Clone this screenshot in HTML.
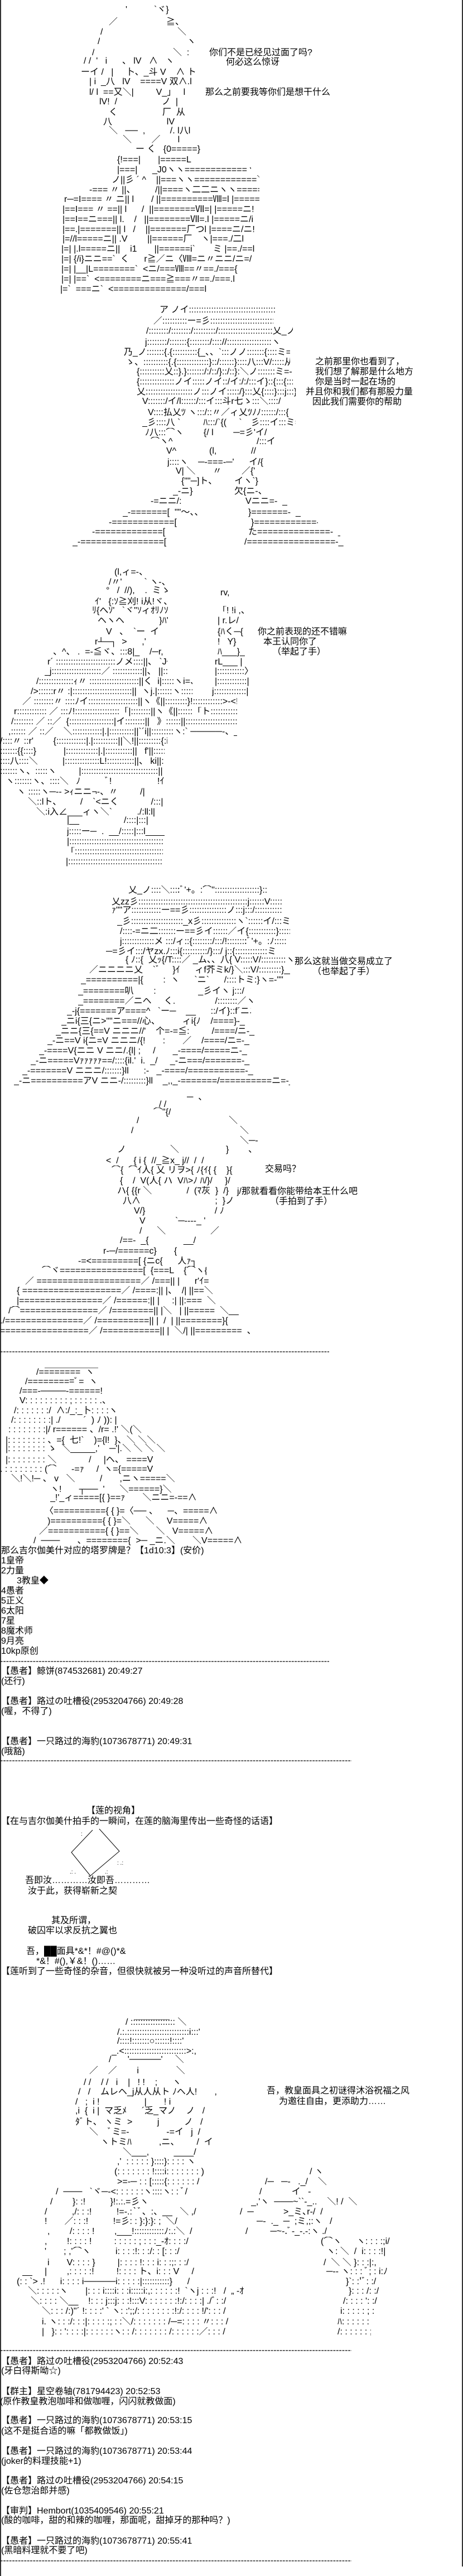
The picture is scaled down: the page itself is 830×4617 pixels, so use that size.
<!DOCTYPE html>
<html><head><meta charset="utf-8"><style>
html,body{margin:0;padding:0;background:#fff}
#pg{width:830px;height:4617px;position:relative;overflow:hidden;font-family:"Liberation Sans","Noto Sans CJK SC",sans-serif;font-size:16px;line-height:18px;color:#000;background:#fff}
.l{position:absolute;white-space:pre;overflow:hidden;height:18px}
.t{position:absolute;white-space:pre}
.dash{position:absolute;left:0;height:18px;white-space:pre;overflow:hidden}
#bl{position:absolute;left:0;top:0;width:2px;height:4617px;background:#333}
#br{position:absolute;right:0;top:0;width:2px;height:4600px;background:#333}
</style></head><body><div id="pg">
<div id="bl"></div><div id="br"></div>

<!-- ART 1 -->
<div class="l" style="top:9px;left:225px">'￣￣￣`ヾ}</div>
<div class="l" style="top:31px;left:195px">／</div><div class="l" style="top:31px;left:298px">≧、</div>
<div class="l" style="top:49px;left:180px">/</div><div class="l" style="top:49px;left:318px">＼</div>
<div class="l" style="top:66px;left:175px">/</div><div class="l" style="top:66px;left:335px">ヽ</div>
<div class="l" style="top:86px;left:165px">/</div><div class="l" style="top:86px;left:310px">＼  :</div>
<div class="l" style="top:101px;left:150px">/ /  '   i      、 lV   ∧   ヽ</div>
<div class="l" style="top:121px;left:145px">ーイ /   |     卜、_斗 V    ∧ ト</div>
<div class="l" style="top:138px;left:160px">| i  _八   lV    ====V 双∧.l</div>
<div class="l" style="top:157px;left:160px">l/ l  ==又＼|         V_」   l</div>
<div class="l" style="top:174px;left:178px">lV!  /                  ノ  |</div>
<div class="l" style="top:193px;left:195px">く                  厂  从</div>
<div class="l" style="top:210px;left:185px">八                      lV</div>
<div class="l" style="top:226px;left:195px">＼   ──  ,          /. l八l</div>
<div class="l" style="top:242px;left:220px">＼        ／       l</div>
<div class="l" style="top:259px;left:243px">ー く   {0=====}</div>
<div class="l" style="top:278px;left:210px">{!===|       |=====L</div>
<div class="l" style="top:296px;left:210px;width:240px">|===|      _J0ヽヽ============ヽ</div>
<div class="l" style="top:314px;left:200px;width:265px">ノ||彡 ´ ^    ||===ヽヽ============＼</div>
<div class="l" style="top:332px;left:160px;width:305px">-=== 〃 ||、        /||====ヽ二二ニヽヽ======|</div>
<div class="l" style="top:349px;left:115px;width:350px">r─=I==== 〃 ニ|| l       / ||==========Ⅷ=l |======l</div>
<div class="l" style="top:367px;left:112px;width:353px">|==I=== 〃 ==|| l      /  ||========Ⅶ=| |=====ニ!</div>
<div class="l" style="top:385px;left:112px;width:353px">|==I==ニ===|| l.    /   ||========Ⅶ=.l |=====ニ/i</div>
<div class="l" style="top:403px;left:112px;width:353px">|==.|=======|| l   /    ||=======厂つl |====ニ/ニ!</div>
<div class="l" style="top:420px;left:112px;width:353px">|=//l=====ニ|| .V        ||======厂￣ヽ|===./二l</div>
<div class="l" style="top:438px;left:110px;width:355px">|=| |.l=====ニ||    i1       ||======i`￣￣ミ |==./==l</div>
<div class="l" style="top:456px;left:110px;width:355px">|=| {/i}ニニ==`  く      r≧／ニ〈Ⅷ=ニ〃ニニ/ニ=/</div>
<div class="l" style="top:474px;left:110px;width:345px">|=| |__|L========`  &lt;ニ/===Ⅷ==〃==./==={</div>
<div class="l" style="top:492px;left:110px;width:335px">|=| |==`  &lt;========ニ===≧===〃==./===.l</div>
<div class="l" style="top:510px;left:108px;width:337px">|=`  ===ニ`  &lt;==============/===l</div>
<div class="t" style="top:86px;left:375px">你们不是已经见过面了吗?</div>
<div class="t" style="top:103px;left:405px">何必这么惊讶</div>
<div class="t" style="top:157px;left:368px">那么之前要我等你们是想干什么</div>

<!-- ART 2 -->
<div class="l" style="top:547px;left:270px;width:225px">￣ア ノイ::::::::::::::::::::::::::::::::::::::::::::く￣</div>
<div class="l" style="top:567px;left:275px;width:215px">／::::::::::ー=彡::::::::::::::::::::::::::::::::::ヽ</div>
<div class="l" style="top:585px;left:262px;width:263px">/::::::::/::::::::/:::::::::/::::::::::::::::::::::乂_ノ</div>
<div class="l" style="top:605px;left:260px;width:250px">j::::::::/:::::::{::::::::/:::://::::::::::::::::::ヽ</div>
<div class="l" style="top:623px;left:222px;width:298px">乃_ノ:::::::{.{::::::::::{_、、`:::ノノ:::::::{::::ミ=-::::</div>
<div class="l" style="top:641px;left:225px;width:295px">ゝ、::::::::::{.{:::::::::::::}::/::::::}::::八:::V/:::::从</div>
<div class="l" style="top:658px;left:245px;width:290px">{::::::::::乂::}.}:::::::/:/::/}::/::}:＼ノ:::::::ミ=-</div>
<div class="l" style="top:676px;left:245px;width:280px">{::::::::::::::ノイ:::::ノイ::/イ:/:/:::イ}::{:::{::::::}</div>
<div class="l" style="top:694px;left:245px;width:285px">乂:::::::::::::::::::ノ:::ノイ:::::/}:::乂{::::}:::j:::}</div>
<div class="l" style="top:711px;left:255px;width:267px">V:::::::/イ/l::::::/:::イ:::斗r七ゝ:::＼::::/</div>
<div class="l" style="top:731px;left:265px;width:255px">V::::払乂ﾂ ヽ:::/::〃／ィ乂ﾂﾉﾉ::::::/:::{</div>
<div class="l" style="top:749px;left:255px;width:275px">_彡::::八 `￣￣  ﾊ:::/`{(     `￣彡::::イ:::ミ=-</div>
<div class="l" style="top:767px;left:260px;width:235px">ﾉ八:::⌒ヽ        {/ l        ─=彡'イ/</div>
<div class="l" style="top:783px;left:270px">⌒ヽ^</div><div class="l" style="top:783px;left:460px">/:::イ</div>
<div class="l" style="top:800px;left:298px">V^</div><div class="l" style="top:800px;left:375px">(l,</div><div class="l" style="top:800px;left:450px">//</div>
<div class="l" style="top:820px;left:300px">j::::ヽ    ─-===-─'      イ/{</div>
<div class="l" style="top:836px;left:315px">V| ＼       〃        ／{'</div>
<div class="l" style="top:854px;left:325px">{""─]ト、       イヽ`}</div>
<div class="l" style="top:872px;left:310px">_-ニ}</div><div class="l" style="top:872px;left:420px">欠{ニ-、</div>
<div class="l" style="top:890px;left:270px">-=ニニ/:</div><div class="l" style="top:890px;left:440px">Vニニ=-  _</div>
<div class="l" style="top:910px;left:220px;width:165px">_-=======[  ""～、、</div><div class="l" style="top:910px;left:445px;width:95px">}=======-  _</div>
<div class="l" style="top:928px;left:195px;width:125px">-============[</div><div class="l" style="top:928px;left:450px;width:120px">}============-  _</div>
<div class="l" style="top:945px;left:165px;width:155px">-=============[</div><div class="l" style="top:945px;left:445px;width:165px">た==============-  _</div>
<div class="l" style="top:963px;left:130px;width:192px">_-================[</div><div class="l" style="top:963px;left:438px;width:210px">/=================-_</div>
<div class="t" style="top:640px;left:565px">之前那里你也看到了，</div>
<div class="t" style="top:658px;left:565px">我们想了解那是什么地方</div>
<div class="t" style="top:676px;left:565px">你是当时一起在场的</div>
<div class="t" style="top:694px;left:548px">并且你和我们都有那股力量</div>
<div class="t" style="top:712px;left:560px">因此我们需要你的帮助</div>

<!-- ART 3 -->
<div class="l" style="top:1017px;left:205px">(l,ィ=-、</div>
<div class="l" style="top:1035px;left:195px">/〃'         ` ヽ-、</div>
<div class="l" style="top:1050px;left:190px">°   /  //),    .  ミゝ</div>
<div class="l" style="top:1054px;left:395px">rv,</div>
<div class="l" style="top:1070px;left:170px">ｲ'   {:ｿ≧刈! i从!ヾ、</div>
<div class="l" style="top:1086px;left:165px">ﾘ{へｿ'   `ヾ"ｿィｵﾘﾉｿ</div><div class="l" style="top:1086px;left:390px">「! !i ,、</div>
<div class="l" style="top:1104px;left:175px">ヘヽヘ              }ﾊ'</div><div class="l" style="top:1104px;left:390px">| r.レ/</div>
<div class="l" style="top:1124px;left:190px">V   、  `ー  イ</div><div class="l" style="top:1124px;left:390px">{ﾊく─{</div>
<div class="l" style="top:1142px;left:170px">r┴─┐  &gt;      ,'</div><div class="l" style="top:1142px;left:390px">!   Y}</div>
<div class="l" style="top:1160px;left:95px">、^、 .  =-≦ヾ、:::8|_    /─r,</div><div class="l" style="top:1160px;left:390px">ﾊ___}_</div>
<div class="l" style="top:1178px;left:85px;width:215px">r´ ::::::::::::::::::::::::ノメ::::||、 `J^、_ ___</div><div class="l" style="top:1178px;left:385px">rL___ |</div>
<div class="l" style="top:1195px;left:80px;width:225px">_j::::::::::::::::::::／ ::::::::::::||、 ||::ヾ、:::::ヽ</div><div class="l" style="top:1195px;left:385px">|:::::::::::〉</div>
<div class="l" style="top:1213px;left:65px;width:280px">/::::::::::::::ｨ〃 ::::::::::::::::::::||く  i|:::::ヽi=、`、_</div><div class="l" style="top:1213px;left:385px">|::::::::::::|</div>
<div class="l" style="top:1231px;left:55px;width:290px">/&gt;::::::r〃 :|::::::::::::::::::::::::||  ヽj.|::::::ヽ::::::::::::＼</div><div class="l" style="top:1231px;left:380px">j:::::::::::::|</div>
<div class="l" style="top:1249px;left:40px;width:385px">／ ::::::::〃 ::::ﾉイ::::::::::::::::::::||ヽ《||:::::::::}!::::::::::::&gt;-&lt;!::::::::::::|</div>
<div class="l" style="top:1267px;left:25px;width:400px">r:::::::::::: ／ :::ﾉ!::::::::::::::::::「|::::::::||ヽ《||::::::「ト:::::::::::::::::::::::::〉、::::::::|</div>
<div class="l" style="top:1285px;left:20px;width:405px">/:::::::: ／ ::／  {::::::::::::::::::|イ::::::::||   》::::::||::::::::::::::::::::::::ヽ::::::::::j</div>
<div class="l" style="top:1303px;left:15px;width:410px">,:::::: ／ ::／    ＼::::::::::::|.|::::::::::||`´i||:::::::::ヽ:` ─────-、__ノ</div>
<div class="l" style="top:1320px;left:0px;width:300px">/::::〃 ::r'        {::::::::::::|.|::::::::::||＼!||:::::::::{:i</div>
<div class="l" style="top:1338px;left:0px;width:295px">:::::::{{::::}           |:::::::::::::|.|:::::::::::||   f'||::::::::::::||</div>
<div class="l" style="top:1356px;left:0px;width:295px">::::八::::＼          |::::::::::::::L!:::::::::::||、 ki||:::::::::::|</div>
<div class="l" style="top:1374px;left:0px;width:295px">:::::::ヽ、:::::ヽ         |:::::::::::::::::::::::::::::::||   i{||:::::::::::|</div>
<div class="l" style="top:1392px;left:10px;width:290px">ヽ:::::::ヽ、::::＼   ﾉ          ﾞ!￣￣￣￣    !ｲ    |</div>
<div class="l" style="top:1411px;left:30px;width:262px">ヽ :::::ヽ─-- &gt;ｨニニ¬-、〃         /|       |</div>
<div class="l" style="top:1429px;left:50px;width:242px">＼::lト、  ￣  /    `&lt;ニく             /:::|       |</div>
<div class="l" style="top:1447px;left:65px;width:227px">＼:i入∠___ィヽ＼`          ./:ll:l|       |</div>
<div class="l" style="top:1462px;left:120px;width:172px">|__                  /::::|:::|       |</div>
<div class="l" style="top:1482px;left:120px;width:175px">j:::::ー─  .  __/:::::|:::l____j</div>
<div class="l" style="top:1500px;left:120px;width:172px">|:::::::::::::::::::::::::::::::::::::::j／ :::::::::::::|</div>
<div class="l" style="top:1518px;left:118px;width:174px">「::::::::::::::::::::::::::::::::::::::∠::::::::::::::::::|</div>
<div class="l" style="top:1536px;left:118px;width:174px">|:::::::::::::::::::::::::::::::::::::::::/::::::::::::::::::::::|</div>
<div class="t" style="top:1124px;left:462px">你之前表现的还不错嘛</div>
<div class="t" style="top:1142px;left:472px">本王认同你了</div>
<div class="t" style="top:1160px;left:488px">（举起了手）</div>

<!-- ART 4 -->
<div class="l" style="top:1587px;left:230px;width:250px">乂_ノ::::＼::::ﾞ'+。:⌒"::::::::::::::::::}::::乂__ノヘ</div>
<div class="l" style="top:1608px;left:200px;width:305px">乂zz彡::::::::::::::::::::::::::::::::::::::::::::j::::::V::::::::::::::::    }</div>
<div class="l" style="top:1623px;left:200px;width:305px">ｧ""ア::::::::::::ー==彡:::::::::::::::ノ:::j:::/:::::::::::::::::_ノ}</div>
<div class="l" style="top:1643px;left:210px;width:310px">_彡:::::::::::::::::::::_x彡::::::::::::::ヽ`::::::イ/:::ミzzzz彡"</div>
<div class="l" style="top:1661px;left:215px;width:305px">/::::-=ニ二:::::::ー==彡イ::::::／イ{:::::::::::}:::::V:::},ﾉ}</div>
<div class="l" style="top:1679px;left:215px;width:300px">j:::::::::::::メ :::/ィ::{::::::::/:::/!::::::::ﾞ'+。:ﾉ::::::::_彡"</div>
<div class="l" style="top:1697px;left:190px;width:305px">─=彡イ:::/ヤzx.ﾉ:::i{::::::::::/}:::/ j::{:::::::::::::ミ=-::::::::}</div>
<div class="l" style="top:1712px;left:225px;width:300px">{ ﾉ::{  乂ｯ{/T::::／ _ム、、八{ V:::::V/::::::::::ヽミ_</div>
<div class="l" style="top:1730px;left:160px;width:360px">／ニニニニ乂    `ﾞ     }ｲ      ィf芥ミk/}＼:::V/:::::::::}__ノ</div>
<div class="l" style="top:1748px;left:145px;width:370px">_==========|{        :  ヽ      `ニ`      /::::トミ:}ヽ=-""</div>
<div class="l" style="top:1768px;left:140px;width:350px">_========叭        :                 _彡イヽ j:::/</div>
<div class="l" style="top:1786px;left:140px;width:320px">_========／ニヘ     く.                /::::::::／ヽ</div>
<div class="l" style="top:1804px;left:120px;width:330px">_-j{=======ア====^   `ー─    __      ::/イ}::f´ニニ_</div>
<div class="l" style="top:1822px;left:110px;width:355px">_ニi{三{ニ&gt;""ニ===//心、         ィi{ﾉ    /====}-_</div>
<div class="l" style="top:1840px;left:100px;width:365px">_ニニ{三{==V ニニニ//'    个=-=≦:         /====/ニ-_</div>
<div class="l" style="top:1857px;left:85px;width:385px">_-ニ==V i{ニ=V ニニニ/{!       :       ／    /====/ニ=-_</div>
<div class="l" style="top:1875px;left:70px;width:410px">_-====V{ニニ V ニニ/.{l| ;     /       _-====/=====ニ-_</div>
<div class="l" style="top:1893px;left:55px;width:440px">_-ニ=====Vｧｧｧｧｧ==/::::{il.'  i.  _/     _-ニ===/=======-_</div>
<div class="l" style="top:1911px;left:40px;width:460px">_-=======V ニニニ/:::::::}ll      :-   _-====/===========-_</div>
<div class="l" style="top:1929px;left:25px;width:495px">_-ニ==========アV ニニ-/:::::::::}ll    _,,_-=======/==========ニ=-_</div>
<div class="t" style="top:1715px;left:528px">那么这就当做交易成立了</div>
<div class="t" style="top:1733px;left:560px">（也举起了手）</div>

<!-- ART 5 -->
<div class="l" style="top:1958px;left:335px">─  、</div>
<div class="l" style="top:1971px;left:285px">/ /</div>
<div class="l" style="top:1985px;left:275px">⌒"{/</div>
<div class="l" style="top:2000px;left:245px">/</div><div class="l" style="top:2000px;left:410px">＼</div>
<div class="l" style="top:2018px;left:235px">/</div><div class="l" style="top:2018px;left:430px">＼</div>
<div class="l" style="top:2036px;left:430px">＼─-</div>
<div class="l" style="top:2052px;left:210px">ノ</div><div class="l" style="top:2052px;left:305px">＼</div><div class="l" style="top:2052px;left:405px">}</div><div class="l" style="top:2052px;left:445px">、</div>
<div class="l" style="top:2072px;left:190px">&lt;  /      { i {  //_≧x_ j//  /  /</div>
<div class="l" style="top:2089px;left:200px;width:270px">⌒{  ⌒ｲ人{ 乂 リヲ&gt;{ ﾉ{ｲ{ {    }{</div>
<div class="t" style="top:2087px;left:475px">交易吗？</div>
<div class="l" style="top:2108px;left:215px;width:310px">{    /  V(人{ ハ  Vﾊ&gt;ﾉ ﾊ/}/     }/</div>
<div class="l" style="top:2126px;left:210px;width:240px">ハ{ {{r ＼              /  (ﾏ灰  }  /}</div>
<div class="l" style="top:2144px;left:220px;width:205px">八∧                              ;  }ノ</div>
<div class="t" style="top:2127px;left:425px;background:#fff">j/那就看看你能带给本王什么吧</div>
<div class="l" style="top:2162px;left:240px">V/}                            / ﾉ</div>
<div class="t" style="top:2145px;left:484px;background:#fff">（手拍到了手）</div>
<div class="l" style="top:2180px;left:250px">V            `─----_ '</div>
<div class="l" style="top:2198px;left:250px">/      ＼                  ／</div>
<div class="l" style="top:2215px;left:215px">/==-  _{              __/</div>
<div class="l" style="top:2234px;left:185px">r-─/======c}       {</div>
<div class="l" style="top:2252px;left:140px;width:230px">-=&lt;=========[ {ニc{      人ｧ┐</div>
<div class="l" style="top:2269px;left:75px;width:295px">⌒ヾ================[  {===L    {⌒ヽ{c|</div>
<div class="l" style="top:2288px;left:45px;width:330px">／ ====================／ /===|| |      r'ｲ=={</div>
<div class="l" style="top:2305px;left:30px;width:370px">{ ===================／ /====:|| |、  /| ||==＼</div>
<div class="l" style="top:2323px;left:30px;width:370px">|================／ /======:|| |     :| ||:===  ＼</div>
<div class="l" style="top:2341px;left:15px;width:420px">/⌒===============／ /========|| |＼   | ||=====  ＼__</div>
<div class="l" style="top:2359px;left:0px;width:450px">./===============／ /==========|| |  /  | ||========}{</div>
<div class="l" style="top:2377px;left:0px;width:460px">=================／ /===========|| |  ＼/| ||=========  、</div>

<div class="dash" style="top:2414px;width:590px">----------------------------------------------------------------------------------------------------------------------------</div>

<!-- ART 6 -->
<div class="l" style="top:2437px;left:80px">＿＿＿＿＿＿</div>
<div class="l" style="top:2451px;left:65px">/========  ヽ</div>
<div class="l" style="top:2468px;left:45px">/=========ﾟ=  ヽ</div>
<div class="l" style="top:2485px;left:35px">/===-────-======!</div>
<div class="l" style="top:2502px;left:35px">V: : : : : : : : : ; : : : : : .、</div>
<div class="l" style="top:2520px;left:25px">/: : : : : : :/  ∧:/_:_卜: : : :ヽ</div>
<div class="l" style="top:2537px;left:20px">/: : : : : : : :| ./  ￣￣´  ) ﾉ )): |</div>
<div class="l" style="top:2554px;left:15px">: : : : : : : :|/ r====== 、/r= .!' ＼(＼</div>
<div class="l" style="top:2573px;left:10px">|: : : : : : : : 、={  七!`    )={l!  }、＼ ＼＼</div>
<div class="l" style="top:2588px;left:10px">|: : : : : : : : ゝ  ＼_____,'    ─'|.＼ ＼ ＼ ＼</div>
<div class="l" style="top:2608px;left:10px">|: : : : : : : : ＼             /     |ヘ、 ====V</div>
<div class="l" style="top:2625px;left:0px">. : : : : : : : : (⌒      -=ｧ     /  ヽ={=====V</div>
<div class="l" style="top:2642px;left:20px">＼!＼!─ 、 v   ＼          /       ,ニヽ=====＼</div>
<div class="l" style="top:2661px;left:90px">ヽ!       ┬──  '      ＼======}＼</div>
<div class="l" style="top:2676px;left:90px">_!'_ィ=====[{ }==ｧ       ＼ニニ=-==∧</div>
<div class="l" style="top:2700px;left:80px">〈=========={ { }=〈── 、    ─、=====∧</div>
<div class="l" style="top:2718px;left:85px">)=========={ { }=＼      ＼     V=====∧</div>
<div class="l" style="top:2736px;left:70px">／==========={ { }==＼       ＼   V=====∧</div>
<div class="l" style="top:2753px;left:60px">/  ───       、========{  &gt;─ _ニ.＼       ＼V=====∧</div>

<div class="t" style="top:2771px;left:2px">那么吉尔伽美什对应的塔罗牌是？【1d10:3】(安价)</div>
<div class="t" style="top:2789px;left:2px">1皇帝</div>
<div class="t" style="top:2807px;left:2px">2力量</div>
<div class="t" style="top:2825px;left:30px">3教皇◆</div>
<div class="t" style="top:2843px;left:2px">4愚者</div>
<div class="t" style="top:2861px;left:2px">5正义</div>
<div class="t" style="top:2879px;left:2px">6太阳</div>
<div class="t" style="top:2897px;left:2px">7星</div>
<div class="t" style="top:2915px;left:2px">8魔术师</div>
<div class="t" style="top:2933px;left:2px">9月亮</div>
<div class="t" style="top:2951px;left:2px">10kp原创</div>
<div class="dash" style="top:2969px;width:590px">----------------------------------------------------------------------------------------------------------------------------</div>
<div class="t" style="top:2987px;left:2px">【愚者】鲸饼(874532681) 20:49:27</div>
<div class="t" style="top:3005px;left:2px">(还行)</div>
<div class="t" style="top:3041px;left:2px">【愚者】路过の吐槽役(2953204766) 20:49:28</div>
<div class="t" style="top:3059px;left:2px">(喔，不得了)</div>
<div class="t" style="top:3113px;left:2px">【愚者】一只路过的海豹(1073678771) 20:49:31</div>
<div class="t" style="top:3131px;left:2px">(哦豁)</div>
<div class="dash" style="top:3147px;width:630px">------------------------------------------------------------------------------------------------------------------------------------</div>

<div class="t" style="top:3237px;left:155px">【莲的视角】</div>
<div class="t" style="top:3256px;left:2px">【在与吉尔伽美什拍手的一瞬间，在莲的脑海里传出一些奇怪的话语】</div>
<svg style="position:absolute;left:110px;top:3274px" width="120" height="95">
<polyline points="68,4 104,44 52,88 18,46 56,6" fill="none" stroke="#000" stroke-width="1"/>
<text x="35" y="16" font-size="10">:</text><text x="100" y="68" font-size="10">: .:</text><text x="15" y="84" font-size="10">.: .</text><text x="78" y="84" font-size="10">.:</text>
</svg>
<div class="t" style="top:3362px;left:45px">吾即汝…………汝即吾…………</div>
<div class="t" style="top:3381px;left:50px">汝于此，获得崭新之契</div>
<div class="t" style="top:3434px;left:92px">其及所谓，</div>
<div class="t" style="top:3452px;left:50px">破囚牢以求反抗之翼也</div>
<div class="t" style="top:3489px;left:47px">吾，██面具*&amp;*！#@()*&amp;</div>
<div class="t" style="top:3507px;left:65px">*&amp;！#(),￥&amp;！()……</div>
<div class="t" style="top:3525px;left:2px">【莲听到了一些奇怪的杂音，但很快就被另一种没听过的声音所替代】</div>

<!-- ART 7 -->
<div class="l" style="top:3605px;left:240px">＿＿＿＿</div>
<div class="l" style="top:3616px;left:225px">/ :::::::::::::::::: ＼</div>
<div class="l" style="top:3634px;left:210px">/.:.:::::::::::::::::::::::::i:::'</div>
<div class="l" style="top:3650px;left:210px">/::::!:::::::○::::::!::::'</div>
<div class="l" style="top:3668px;left:200px">_.&lt;:::::::::::::::::::::::::&gt;:,</div>
<div class="l" style="top:3683px;left:195px">/￣   '─────'     ＼</div>
<div class="l" style="top:3703px;left:160px">／    ／        i               ＼</div>
<div class="l" style="top:3724px;left:150px">/ /    / /   i    |   ! !    ;      ヽ</div>
<div class="l" style="top:3741px;left:140px">/   /    ムレヘ_j从人从ト ﾉヘ人!       ,</div>
<div class="l" style="top:3759px;left:135px">/   ;  i !                  |       ! i</div>
<div class="l" style="top:3775px;left:135px">,i  {  i |  マ乏ﾒ      ´乏_マノ    ノ   /</div>
<div class="l" style="top:3795px;left:135px">ﾀﾞト、 ヽミ  &gt;          j          ノ   /</div>
<div class="l" style="top:3813px;left:160px">＼    ﾞミ=-               -=イ   j  /</div>
<div class="l" style="top:3831px;left:180px">ヽトミﾊ           ,ニ、       /  イ</div>
<div class="l" style="top:3849px;left:220px">＼___,          ____/</div>
<div class="l" style="top:3866px;left:210px">,'  : : : : : }::::}: : : : ヽ</div>
<div class="l" style="top:3884px;left:205px">(: : : : : : : !::::i: : : : : : : )</div><div class="l" style="top:3884px;left:555px">/ ヽ</div>
<div class="l" style="top:3902px;left:210px">&gt;=-─ : : [:::::{: : : : : : /</div><div class="l" style="top:3902px;left:475px">/─   ─-   ._/    ＼</div>
<div class="l" style="top:3920px;left:100px;width:265px">/  ───   `ヾ─-&lt;: : : : : :ヽ::::ヽ: : ﾞ/</div><div class="l" style="top:3920px;left:465px">/            イ   -</div>
<div class="l" style="top:3938px;left:90px;width:285px">/        }: :!          }!:.:.=彡ヽ</div><div class="l" style="top:3938px;left:450px;width:270px">_,'ヽ  ───~``-_..    ＼! /  ＼</div>
<div class="l" style="top:3956px;left:80px;width:345px">/          ,/: : :!          !=-.:`ﾞ、:、__   ＼ ,/</div><div class="l" style="top:3956px;left:430px;width:290px">/  ─            &gt;_ミ､r-/  /</div>
<div class="l" style="top:3973px;left:80px;width:340px">!       ／: : :!          !=彡: : }:}:}: ;  ＼/</div><div class="l" style="top:3973px;left:460px;width:260px">─-  ._  ─  ;ミ,;:ヽ   /</div>
<div class="l" style="top:3991px;left:85px;width:335px">,        /: : : : !        ,___!::::::::::::ﾉ:.:＼  /</div><div class="l" style="top:3991px;left:440px;width:270px">/         ─~-.ﾞ-_-.-:ヽ ./</div>
<div class="l" style="top:4009px;left:80px;width:340px">,        !: : : : !         : : : : : ; : : :_-ｵ: : : :/</div><div class="l" style="top:4009px;left:575px;width:125px">(⌒ヽ      ヽ: : : :;i/</div>
<div class="l" style="top:4027px;left:80px;width:340px">'       ; ,'⌒ヽ          i: : : :!: : :/: : [: : :/</div><div class="l" style="top:4027px;left:585px;width:115px">ヽ: ＼  /  i: : : :!|</div>
<div class="l" style="top:4047px;left:85px;width:315px">i       V: : : : }         |: : : : !: : : i: : :;: : :/</div><div class="l" style="top:4047px;left:580px;width:120px">/  ＼ ＼ }: : :|:,</div>
<div class="l" style="top:4063px;left:40px;width:360px">__     |        ,: : : : :!         !: : : : ト、i: : : V     /</div><div class="l" style="top:4063px;left:585px;width:115px">─-- ヽ: : : ﾞ; : i:ﾉ</div>
<div class="l" style="top:4081px;left:30px;width:370px">(: : `&gt; .!      i: : : : i─────i: : : : :|:::::::::::}      /</div><div class="l" style="top:4081px;left:620px;width:70px">}`: :'ﾞ: :/</div>
<div class="l" style="top:4098px;left:50px;width:390px">＼: : : : :ヽ       |: : : i::::i: : :i:::::i:,: : : : : :!  `ヽj : : :!   /  „ -ｵ</div><div class="l" style="top:4098px;left:625px;width:65px">}: : : /: :/</div>
<div class="l" style="top:4116px;left:55px;width:385px">＼: : : : ＼__    !: : : j:::j: : :!:::V: : : : : : :!:/: : : :| ./ﾞ: :/</div><div class="l" style="top:4116px;left:615px;width:65px">/: : : : ': :/</div>
<div class="l" style="top:4134px;left:75px;width:350px">＼: : : /:)"´ !: : : :' ` ヽ: :';;/: : : : : : : :!:/: : : : !/': : : /</div><div class="l" style="top:4134px;left:610px;width:60px">i: : : : : ; :/</div>
<div class="l" style="top:4153px;left:75px;width:345px">i. ヽ: : :/: : :|: : : : :; : :＼/: : : : : : : /─=: : : : 〃: : : /</div><div class="l" style="top:4153px;left:605px;width:60px">ﾊ: : : : : : {</div>
<div class="l" style="top:4171px;left:75px;width:335px">|   }: : ': : : :|: : : : : :ヽ: : /: : : : : : : /: : : : : :／: : : /</div><div class="l" style="top:4171px;left:605px;width:60px">/: : : : : : ;</div>
<div class="t" style="top:3739px;left:478px">吾，教皇面具之初谜得沐浴祝福之风</div>
<div class="t" style="top:3758px;left:500px">为邀往自由，更添助力……</div>

<div class="dash" style="top:4204px;width:630px">------------------------------------------------------------------------------------------------------------------------------------</div>
<div class="t" style="top:4224px;left:2px">【愚者】路过の吐槽役(2953204766) 20:52:43</div>
<div class="t" style="top:4241px;left:2px">(牙白得斯呦☆)</div>
<div class="t" style="top:4278px;left:2px">【群主】星空卷轴(781794423) 20:52:53</div>
<div class="t" style="top:4296px;left:0px">(原作教皇教泡咖啡和做咖喱，闪闪就教做面)</div>
<div class="t" style="top:4330px;left:2px">【愚者】一只路过的海豹(1073678771) 20:53:15</div>
<div class="t" style="top:4349px;left:2px">(这不是挺合适的嘛「都教做饭」)</div>
<div class="t" style="top:4385px;left:2px">【愚者】一只路过的海豹(1073678771) 20:53:44</div>
<div class="t" style="top:4403px;left:2px">(joker的料理技能+1)</div>
<div class="t" style="top:4438px;left:2px">【愚者】路过の吐槽役(2953204766) 20:54:15</div>
<div class="t" style="top:4456px;left:2px">(佐仓惣治郎并感)</div>
<div class="t" style="top:4492px;left:2px">【审判】Hembort(1035409546) 20:55:21</div>
<div class="t" style="top:4509px;left:2px">(酸的咖啡，甜的和辣的咖喱，那面呢，甜掉牙的那种吗？)</div>
<div class="t" style="top:4546px;left:2px">【愚者】一只路过的海豹(1073678771) 20:55:41</div>
<div class="t" style="top:4563px;left:2px">(黑暗料理就不要了吧)</div>
<div class="dash" style="top:4581px;width:630px">------------------------------------------------------------------------------------------------------------------------------------</div>
</div></body></html>
